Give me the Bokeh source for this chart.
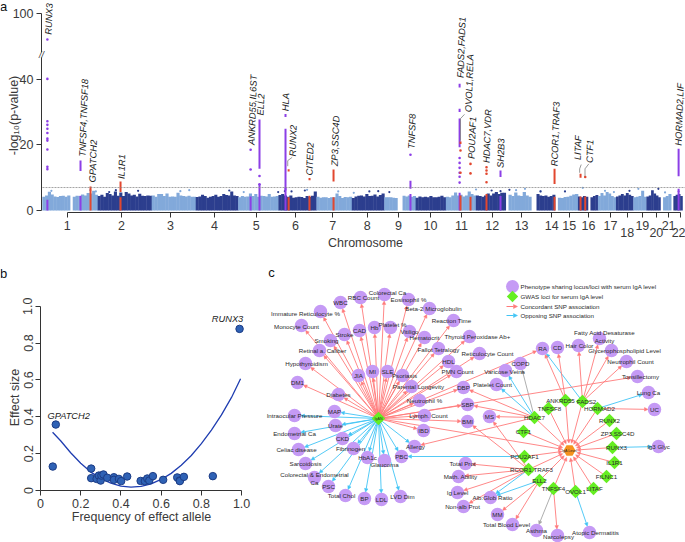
import math
from bokeh.plotting import figure
from bokeh.embed import file_html
from bokeh.resources import INLINE
from bokeh.layouts import column, row
from bokeh.models import Label, BoxAnnotation, Arrow, NormalHead, FixedTicker, ColumnDataSource
from bokeh.core.properties import value

FONT = "Liberation Sans"
TXT = "#3a3a3a"

# ---------- panel a: data ----------
chrom_len = [249,243,198,191,181,171,159,146,141,136,135,134,115,107,103,90,81,78,59,63,48,51]
chrom_heights = [
 [4.2,4.6,5.7,4.9,4.3,4.1,4.4,4.5,4.2,4.6,0,4.2,4.5,4.4,4.9,4.6,5.3,5.2,6.0,4.8],
 [4.4,4.8,4.2,5.3,5.0,4.6,5.8,4.5,5.5,4.4,5.6,5.2,4.6,4.8,4.3,5.1,4.5,4.4,4.6,4.5],
 [4.6,4.2,5.0,5.0,4.4,5.2,4.2,4.3,4.2,5.4,4.6,4.4,4.3,4.5,4.2,4.2],
 [4.1,4.3,4.8,4.4,3.9,4.2,4.4,4.8,4.2,4.4,5.0,4.7,4.6,5.8,4.6,4.4],
 [4.0,4.4,4.2,4.3,5.2,4.4,5.0,4.2,4.5,4.4,4.3,5.0,4.2,4.3,4.4],
 [4.7,5.0,4.6,4.2,4.6,3.9,4.0,4.2,4.1,3.8,4.4,4.1,4.5,5.8],
 [4.2,3.9,4.0,4.0,3.8,4.0,4.0,5.2,4.4,3.8,4.1,4.0,4.2],
 [3.8,4.3,4.5,4.6,4.3,5.0,4.4,4.5,4.9,4.3,4.7,5.2],
 [4.0,4.0,4.0,3.9,3.8,0,0,4.5,4.3,4.6,4.2,4.4],
 [3.9,4.3,4.0,4.2,4.0,4.4,4.0,4.0,4.2,4.5,4.0],
 [4.2,4.0,4.6,5.5,4.6,4.8,4.3,4.6,5.8,5.0,4.6],
 [4.6,4.4,4.2,4.6,5.2,4.6,5.2,5.6,5.0,5.4,5.4],
 [0,4.8,4.4,5.5,4.6,4.4,5.6,4.6,4.2],
 [0,0,5.0,4.6,4.4,4.6,4.2,4.4,4.8],
 [0,3.9,3.8,4.1,4.2,4.5,4.9,5.0],
 [4.3,4.0,4.4,4.2,0,4.0,4.4,4.7],
 [4.4,5.3,4.6,5.6,5.2,4.4,4.0],
 [4.3,4.6,5.0,4.6,5.3,4.8,4.4],
 [4.0,4.2,4.4,6.0,4.2],
 [4.3,4.6,6.2,5.2,4.6,4.0],
 [0,4.0,4.4,5.0],
 [0,4.4,4.8,5.0,4.4],
]
chrom_ticks = [111,355,576,774,961,1138,1305,1461,1601,1745,1884,2023,2155,2290,2369,2456,2555,2630,2698,2761,2816,2870]
chrom_labels = [str(i) for i in range(1, 23)]
lower_labels = ["18", "20", "22"]

light_x = [40,215,240,620,660,905,1190,1330,1400,1950,2130,2170,2240,2430,2530,2570,2680,2800]
light_y = [6.0,6.2,5.8,5.9,6.2,5.6,6.3,5.8,5.4,6.4,6.2,6.6,5.8,6.9,6.0,5.6,6.6,5.5]
dark_x = [300,330,430,840,1060,1090,1120,1180,1470,1510,1560,2020,2060,2100,2240,2350,2640,2770]
dark_y = [5.6,6.2,6.0,6.1,5.6,5.9,5.8,6.1,5.8,5.9,5.6,6.1,5.9,6.3,5.8,5.8,6.0,6.6]

base_x   = [22,171,216,351,936,976,1093,1107,1201,1309,1655,1876,1880,1925,1997,2060,2303,2420,2441,2861]
base_top = [3.3,4.5,7.3,4.0,4.3,8.0,7.0,4.0,4.5,4.0,5.0,5.4,4.6,4.2,5.0,4.4,4.2,4.3,4.3,6.0]
base_col = ["p","p","r","r","p","p","p","r","r","r","p","p","r","r","r","p","r","r","r","p"]

range_x  = [171,351,976,1093,1093,1107,1201,1309,1655,1876,1876,1876,1880,2060,2303,2420,2861,2861]
range_lo = [12.0,5.6,12.7,6.1,28.5,11.9,9.2,8.8,6.6,19.3,30.0,37.5,20.3,10.2,8.1,10.0,10.4,5.6]
range_hi = [15.2,8.8,27.7,24.9,29.4,12.6,9.9,12.5,9.1,28.0,31.0,38.6,21.0,12.2,12.7,11.2,18.8,6.6]
range_col = ["p","r","p","p","p","r","r","r","p","p","p","p","r","p","r","r","p","p"]

dot_x = [22,22,22,22,22,22,22,22,22,22,22,936,936,976,976,1655,1876,1876,1876,1876,1876,1876,1880,1880,1925,1925,1997,1997,1997,1997,2441]
dot_y = [52.1,40.1,27.2,26.1,24.9,23.6,21.9,21.3,18.6,13.3,12.6,18.5,12.5,10.5,8.0,17.0,16.0,14.5,13.0,11.5,10.3,8.5,18.3,11.5,14.2,11.3,13.2,12.2,11.2,8.6,10.2]
dot_col = ["p"]*16 + ["p"]*6 + ["r"]*2 + ["r"]*2 + ["r"]*4 + ["r"]

gene_names = ["RUNX3","TNFSF4,TNFSF18","GPATCH2","IL1R1","ANKRD55,IL6ST","ELL2","HLA","RUNX2","CITED2","ZP3,SSC4D",
              "TNFSF8","FADS2,FADS1","OVOL1,RELA","POU2AF1","HDAC7,VDR","SH2B3","RCOR1,TRAF3","LITAF","CTF1","HORMAD2,LIF"]
gene_x = [27,180,225,355,940,981,1093,1125,1201,1314,1660,1880,1916,1930,1997,2060,2303,2407,2461,2861]
gene_y = [53.6,16.4,8.6,9.6,20,29,30.3,16.5,10.7,13.5,18.8,40.4,30,15.7,14.5,13,13.5,15.4,14.5,19.8]

conn_x = [[1123,1103,1103],[1898,1880,1880],[2423,2416,2416],[2457,2440,2440]]
conn_y = [[16.2,15.2,13.5],[29.3,28,21.3],[14,12.7,11.5],[14.2,12.7,10.4]]

# ---------- panel b: data ----------
freq = [.061,.076,.252,.252,.279,.29,.299,.303,.313,.332,.365,.365,.39,.401,.431,.498,.519,.531,.541,.559,.61,.68,.692,.693,.713,.857,.99]
effect = [.13,.358,.119,.067,.063,.081,.054,.081,.087,.069,.072,.058,.063,.051,.076,.052,.051,.065,.054,.078,.058,.071,.054,.051,.074,.078,.877]
curve_x = [.06,.10,.15,.2,.25,.3,.35,.4,.45,.5,.55,.6,.65,.7,.75,.8,.85,.9,.95,.995]
curve_y = [.316,.27,.205,.148,.10,.066,.04,.024,.018,.022,.036,.06,.093,.137,.19,.254,.328,.41,.505,.606]

# ---------- panel c: data ----------
phen_names = ["Colorectal Ca","WBC","RBC Count","Eosinophil %","Beta-2 Microglobulin","Immature Reticulocyte %","Monocyte Count","Reaction Time",
 "CAD","Hb","Platelet %","Vitiligo","Stroke","Smoking","Hematocrit","Thyroid Peroxidase Ab+","Fallot Tetralogy","Retinal a. Caliber","Reticulocyte Count",
 "Hypothyroidism","HDL","PMN Count","JIA","MI","SLE","Psoriasis","DM1","Parental Longevity","DBP","Diabetes","Neutrophil %","SBP",
 "MAP","Lymph. Count","BMI","Intraocular Pressure","Urate","IBD","Endometrial Ca","CKD","Allergy","Celiac disease","Fibrinogen","HbA1c","PBC","Glaucoma",
 "Sarcoidosis","Colorectal & Endometrial\nCa","PSC","Total Chol","BP","LDL","LVD Dim","Total Prot","Math. Ability","Ig Level","Non-alb Prot",
 "RA","CD","Hair Color","Fatty Acid Desaturase\nActivity","Glycerophospholipid Level","Neutrophil Count","Tonsillectomy","Lung Ca","UC","COPD","Varicose Veins","Platelet Count",
 "MS","Ig3 Glyc","Alb:Glob Ratio","MM","Total Blood Level","Asthma","Narcolepsy","Atopic Dermatitis"]
phen_x = [384,340,360,408,429,320,301,453,359,374,390,409,344,330,424,469,438,319,479,305,448,456,358,372,387,402,297,411,463,338,419,467,
 334,424,467,294,335,423,294,342,414,298,353,367,401,384,305,314,328,345,364,381,400,465,458,457,463,
 542,557,578,599,611,626,637,648,654,520,505,496,489,658,490,497,512,536,557,589]
phen_y = [294,302,297,299,308,311,325,320,330,327,327,331,334,340,337,336,348,350,353,363,361,371,375,371,371,375,382,386,387,394,400,404,
 411,415,421,415,425,430,433,438,446,449,448,457,456,460,463,477,486,495,498,499,496,463,476,492,506,
 348,347,345,338,350,361,376,392,409,363,370,384,416,446,497,514,524,530,535,532]
phen_dx = [3,0,3,0,4,-15,-5,-2,0,0,2,0,0,-4,0,8,0,3,8,1,0,1,0,0,0,2,0,7,0,0,5,0,
 0,4,0,0,0,0,0,0,1,-2,-3,0,0,0,0,0,0,-4,0,0,2,-3,2,0,-1,
 0,0,1,5,13,4,3,0,0,0,-1,-4,0,0,2,0,-6,0,1,6]
phen_dy = [-2,0,0,0,0,2,1,0,0,0,-3,0,0,0,0,0,1,0,0,0,0,0,0,0,0,0,0,0,0,0,0,0,
 0,0,0,0,0,0,0,0,0,0,0,0,0,4,0,1,0,0,0,0,0,0,0,0,0,
 0,0,0,-2,0,0,0,0,0,0,1,0,0,0,0,0,0,0,1,0]

gene_nodes = ["ANKRD55","FADS2","HORMAD2","TNFSF8","HDAC7","RUNX2","ZP3,SSC4D","CTF1","RUNX3","POU2AF1","IL1R1","RCOR1,TRAF3","FILNC1","ELL2","LITAF","TNFSF4","OVOL1"]
node_x = [565,582,597,548,534,609,616,523,612,524,614,528,606,539,593,553,575]
node_y = [400,401,408,408,417,420,433,431,447,456,462,469,476,480,488,488,491]
node_dx = [-5,4,2,1,0,0,1,0,4,0,0,3,0,0,1,0,0]

hub_left = ("IgAN", 378, 418)
hub_right = ("IgA Level", 569, 450)

hub_red = ["Colorectal Ca","WBC","RBC Count","Eosinophil %","Beta-2 Microglobulin","Immature Reticulocyte %","Monocyte Count","Reaction Time","CAD","Hb","Platelet %",
 "Vitiligo","Stroke","Smoking","Hematocrit","Thyroid Peroxidase Ab+","Fallot Tetralogy","Retinal a. Caliber","Reticulocyte Count","Hypothyroidism","HDL","PMN Count",
 "JIA","MI","SLE","Psoriasis","DM1","Parental Longevity","DBP","Diabetes","Neutrophil %","SBP","Lymph. Count","BMI","IBD","RA","Tonsillectomy"]
hub_blue = ["MAP","Intraocular Pressure","Urate","Endometrial Ca","CKD","Allergy","Celiac disease","Fibrinogen","HbA1c","PBC","Glaucoma","Sarcoidosis",
 "Colorectal & Endometrial\nCa","PSC","Total Chol","BP","LDL","LVD Dim"]
gene_edges = [("ANKRD55","RA","r"),("ANKRD55","CD","r"),("FADS2","RA","b"),("FADS2","Hair Color","r"),("FADS2","Fatty Acid Desaturase\nActivity","r"),
 ("FADS2","Glycerophospholipid Level","r"),("FADS2","Neutrophil Count","r"),("HORMAD2","Lung Ca","b"),("HORMAD2","UC","r"),
 ("HDAC7","DBP","r"),("HDAC7","SBP","r"),("HDAC7","Allergy","r"),("HDAC7","MS","r"),("HDAC7","Varicose Veins","b"),("HDAC7","Platelet Count","b"),("HDAC7","COPD","g"),
 ("RCOR1,TRAF3","MS","r"),("RCOR1,TRAF3","BMI","r"),("RCOR1,TRAF3","Total Prot","r"),("RCOR1,TRAF3","Math. Ability","r"),("RCOR1,TRAF3","Ig Level","r"),
 ("RCOR1,TRAF3","Non-alb Prot","r"),("RCOR1,TRAF3","Alb:Glob Ratio","b"),("ELL2","Alb:Glob Ratio","b"),("ELL2","Total Blood Level","r"),("ELL2","MM","r"),
 ("POU2AF1","PBC","b"),("TNFSF4","Asthma","g"),("TNFSF4","Narcolepsy","r"),("OVOL1","Atopic Dermatitis","b"),("RUNX3","Ig3 Glyc","b")]

legend_text = ["Phenotype sharing locus/loci with serum IgA level","GWAS loci for serum IgA level","Concordant SNP association","Opposing SNP association"]
legend_y = [286,296,306,315]

PAL = {"p": "#8c3fe6", "r": "#e2472f"}
EDGE = {"r": "#ff7a7a", "b": "#41c4f5", "g": "#a5a5a5"}
LIGHT, DARK = "#82a9da", "#2c3e8e"

def style_axis(ax):
    ax.axis_line_color = "#333333"
    ax.major_tick_line_color = "#333333"
    ax.minor_tick_line_color = None
    ax.major_tick_in = 0
    ax.major_tick_out = 5
    ax.major_label_text_font = FONT
    ax.major_label_text_font_size = "12.5px"
    ax.major_label_text_color = TXT
    ax.major_label_standoff = 3

def plabel(p, t, x, y, size="12.5px", angle=0, left=0, bottom=0, color=TXT, align="center", style="normal"):
    # x, y are picture pixels; each frame fills its figure, screen units run from its lower left corner
    p.add_layout(Label(x=x - left, y=bottom - y, x_units="screen", y_units="screen", text=t, angle=angle, text_font=FONT,
                       text_font_size=size, text_font_style=style, text_color=color, text_align=align, text_baseline="middle"))

# ---------- panel a ----------
A_B = 262
pa = figure(width=685, height=262, output_backend="svg", toolbar_location=None,
            x_range=(-188.9, 2892), y_range=(-15.85, 64), min_border=0, outline_line_color=None)
pa.grid.visible = False
bx, bt, bw, bc = [], [], [], []
pos = 0
for i, (ln, hs) in enumerate(zip(chrom_len, chrom_heights)):
    step = ln / len(hs)
    for j, h in enumerate(hs):
        bx.append(pos + (j + .5) * step); bt.append(h); bw.append(step * 1.15)
        bc.append(LIGHT if i % 2 == 0 else DARK)
    pos += ln
pa.vbar(x=bx, top=bt, width=bw, bottom=0, color=bc, line_color=None)
pa.scatter(x=light_x, y=light_y, size=2.2, color=LIGHT, line_color=None)
pa.scatter(x=dark_x, y=dark_y, size=2.2, color=DARK, line_color=None)
pa.vbar(x=base_x, top=base_top, bottom=0, width=9, color=[PAL[c] for c in base_col], line_color=None)
pa.vbar(x=range_x, top=range_hi, bottom=range_lo, width=9, color=[PAL[c] for c in range_col], line_color=None)
pa.scatter(x=dot_x, y=dot_y, size=2.6, color=[PAL[c] for c in dot_col], line_color=None)
pa.line(x=[0, 2892], y=[7, 7], line_color="#8a8a8a", line_width=0.8, line_dash="2 1")
pa.multi_line(xs=conn_x, ys=conn_y, line_color="#808080", line_width=0.8)
pa.text(x=gene_x, y=gene_y, text=gene_names, angle=math.radians(88), text_font=value(FONT), text_font_size="9.3px",
        text_font_style="italic", text_color="#222222", text_align="left", text_baseline="middle")

pa.yaxis.ticker = FixedTicker(ticks=[0, 20, 40, 60])
pa.yaxis.major_label_overrides = {0: "0", 20: "20", 40: "40", 60: "100"}
pa.yaxis.bounds = (0, 60)
pa.yaxis.fixed_location = -4.5
style_axis(pa.yaxis[0])
pa.xaxis.ticker = FixedTicker(ticks=chrom_ticks)
pa.xaxis.major_label_overrides = {t: ("" if l in lower_labels else l) for t, l in zip(chrom_ticks, chrom_labels)}
pa.xaxis.bounds = (chrom_ticks[0], chrom_ticks[-1])
pa.xaxis.fixed_location = -0.6
style_axis(pa.xaxis[0])
pa.xaxis.major_label_standoff = 4
for t, l in zip(chrom_ticks, chrom_labels):
    if l in lower_labels:
        pa.add_layout(Label(x=t, y=-0.6, y_offset=-20, x_offset=(-2 if l == "22" else 0), text=l, text_font=FONT, text_font_size="12.5px",
                            text_color=TXT, text_align="center", text_baseline="middle"))
pa.add_layout(BoxAnnotation(left=-15, right=5, top=48.2, bottom=46.6, fill_color="white", fill_alpha=1, line_color=None))
plabel(pa, "//", 41, 54.5, size="9px", bottom=A_B, color="#333333", style="italic")
plabel(pa, "-log\u2081\u2080(p-value)", 13, 115, angle=math.pi/2, bottom=A_B)
plabel(pa, "Chromosome", 365, 242, bottom=A_B)
plabel(pa, "a", 3, 6, size="13px", bottom=A_B, color="#111111")

# ---------- panel b ----------
B_B = 534
pb = figure(width=265, height=272, output_backend="svg", toolbar_location=None,
            x_range=(-.199, 1.119), y_range=(-.2387, 1.2372), min_border=0, outline_line_color=None)
pb.grid.visible = False
pb.line(curve_x, curve_y, line_color="#1f3db0", line_width=1.3)
pb.scatter(freq, effect, size=7.5, fill_color="#2f62b5", line_color="#1c3c85", line_width=1)
pb.text(x=[.93, .14], y=[.93, .405], text=["RUNX3", "GPATCH2"], text_font=value(FONT), text_font_style="italic",
        text_font_size="9.3px", text_color="#222222", text_align="center", text_baseline="middle")
ticks = [0, .2, .4, .6, .8, 1.0]
tlabels = {0: "0", .2: "0.2", .4: "0.4", .6: "0.6", .8: "0.8", 1.0: "1.0"}
for ax in (pb.xaxis[0], pb.yaxis[0]):
    ax.ticker = FixedTicker(ticks=ticks)
    ax.major_label_overrides = tlabels
    ax.bounds = (0, 1)
    ax.fixed_location = 0
    style_axis(ax)
pb.yaxis.major_label_orientation = "vertical"
plabel(pb, "Effect size", 14, 397, angle=math.pi/2, bottom=B_B)
plabel(pb, "Frequency of effect allele", 141, 516, bottom=B_B)
plabel(pb, "b", 3, 273, size="13px", bottom=B_B, color="#111111")

# ---------- panel c ----------
pc = figure(width=420, height=280, output_backend="svg", toolbar_location=None,
            x_range=(265, 685), y_range=(542, 262), min_border=0, outline_line_color=None)
pc.axis.visible = False
pc.grid.visible = False
pos_map = {n: (x, y, 6.5) for n, x, y in zip(phen_names, phen_x, phen_y)}
pos_map.update({n: (x, y, 6.5) for n, x, y in zip(gene_nodes, node_x, node_y)})
pos_map[hub_left[0]] = (hub_left[1], hub_left[2], 6.5)
pos_map[hub_right[0]] = (hub_right[1], hub_right[2], 7.5)
edges = [(hub_left[0], t, "r") for t in hub_red] + [(hub_left[0], t, "b") for t in hub_blue] + gene_edges
edges += [(g, hub_right[0], "r") for g in gene_nodes] + [(hub_left[0], hub_right[0], "r")]
for code in "gbr":
    sx, sy, ex, ey = [], [], [], []
    for s, t, c in edges:
        if c != code:
            continue
        x0, y0, _ = pos_map[s]; x1, y1, r = pos_map[t]
        d = math.hypot(x1 - x0, y1 - y0)
        sx.append(x0); sy.append(y0); ex.append(x1 - (x1 - x0) * r / d); ey.append(y1 - (y1 - y0) * r / d)
    src = ColumnDataSource(dict(x0=sx, y0=sy, x1=ex, y1=ey))
    pc.add_layout(Arrow(source=src, x_start="x0", y_start="y0", x_end="x1", y_end="y1", line_color=EDGE[code], line_width=0.9,
                        level="underlay",
                        end=NormalHead(size=3.5, fill_color=EDGE[code], line_color=EDGE[code], line_width=0.5)))
pc.scatter(phen_x, phen_y, size=13.5, fill_color="#c59af5", line_color=None)
pc.scatter(node_x, node_y, marker="square", angle=math.pi/4, size=9.5, fill_color="#66ee22", line_color=None)
pc.scatter([hub_left[1]], [hub_left[2]], marker="square", angle=math.pi/4, size=9.5, fill_color="#66ee22", line_color=None)
pc.scatter([hub_right[1]], [hub_right[2]], marker="hex", size=12, fill_color="#f5921e", line_color=None)
common = dict(text_font=value(FONT), text_color="#2a2a2a", text_align="center", text_baseline="middle")
pc.text(x=[x + d for x, d in zip(phen_x, phen_dx)], y=[y + d for y, d in zip(phen_y, phen_dy)], text=phen_names,
        text_font_size="6.2px", text_line_height=1.1, **common)
pc.text(x=[x + d for x, d in zip(node_x, node_dx)], y=node_y, text=gene_nodes, text_font_size="6.2px", **common)
pc.text(x=[hub_left[1], hub_right[1]], y=[hub_left[2], hub_right[2]], text=[hub_left[0], hub_right[0]], text_font_size="3.6px", **common)
# legend
pc.scatter([512], [legend_y[0]], size=13, fill_color="#c59af5", line_color=None)
pc.scatter([512], [legend_y[1]], marker="square", angle=math.pi/4, size=8, fill_color="#66ee22", line_color=None)
for yy, code in zip(legend_y[2:], "rb"):
    pc.add_layout(Arrow(x_start=506, y_start=yy, x_end=517, y_end=yy, line_color=EDGE[code], line_width=1,
                        end=NormalHead(size=4, fill_color=EDGE[code], line_color=EDGE[code], line_width=0.5)))
pc.text(x=[520]*4, y=legend_y, text=legend_text, text_font=value(FONT), text_font_size="6.2px", text_color="#2a2a2a",
        text_align="left", text_baseline="middle")
plabel(pc, "c", 271, 272, size="13px", left=265, bottom=542, color="#111111")

root = column(pa, row(pb, pc, spacing=0), spacing=0)
open("out.html", "w").write(file_html(root, INLINE))
